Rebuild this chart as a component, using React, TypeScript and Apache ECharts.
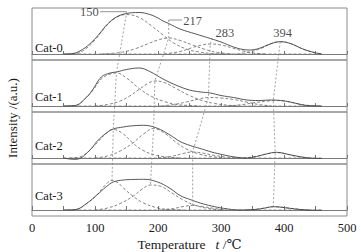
import React, { useEffect, useRef } from 'react';
import * as echarts from 'echarts';

const panelNames = ['Cat-0', 'Cat-1', 'Cat-2', 'Cat-3'];
const xTickStep = 50;
const xMin = 0;
const xMax = 500;
const yMin = -6;
const yMax = 46;

// [temperature, intensity]
const cat0Total = [[50,0],[65,0.5],[80,4.5],[95,12],[108,21],[120,30],[134,37],[150,40.5],[170,41.5],[187,39.5],[200,36],[208,33],[217,30.5],[235,25],[260,20],[283,15.5],[300,12],[320,7],[335,4.5],[345,4],[360,5.5],[378,10],[394,12.3],[410,10.5],[430,5],[448,1.5],[460,0]];
const cat0A = [[55,0],[70,0.5],[85,5],[100,14],[115,26],[130,35],[150,39.5],[170,36.5],[190,28],[208,19],[225,11],[245,5],[265,2],[285,0.5],[305,0]];
const cat0B = [[110,0],[140,1.5],[165,5.5],[185,10.5],[200,14],[217,16],[235,13.5],[255,9],[275,4.5],[295,1.5],[320,0]];
const cat0C = [[210,0],[235,2.5],[255,6.5],[270,9],[283,10],[300,9],[318,6],[335,3],[355,0.8],[370,0]];
const cat0D = [[325,0],[345,2],[365,6],[382,11],[394,12.3],[410,10.5],[430,5],[448,1.5],[460,0]];

const cat1Total = [[50,0],[68,0.5],[87,9],[97,17],[110,29],[124,33],[134,34],[150,36.5],[170,38],[187,34.5],[208,27],[230,20.5],[250,16],[268,14],[283,13],[300,10.5],[320,8.5],[341,6],[360,5.5],[380,6],[395,5.5],[410,4],[436,0.5],[460,0]];
const cat1A = [[55,0],[70,0.5],[85,8],[97,16],[110,27],[124,32],[134,33],[150,28],[171,17],[190,9.5],[210,4.5],[230,1.5],[250,0.5],[265,0]];
const cat1B = [[100,0],[120,1.5],[140,5],[155,10],[171,17],[185,23],[195,25],[210,23.5],[230,17],[250,10.5],[270,5.5],[290,2.5],[310,0.8],[330,0]];
const cat1C = [[205,0],[225,1.5],[245,4],[265,7],[280,8.5],[300,8],[320,6.5],[340,4],[360,1.5],[380,0]];
const cat1D = [[310,0],[335,1.5],[355,3.5],[375,5],[385,5.5],[400,5],[420,2.5],[440,0.5],[455,0]];

const cat2Total = [[50,0],[60,-1],[70,-1.3],[80,1],[87,5],[95,10],[103,16.5],[118,25],[129,29],[145,31],[156,32],[177,32.7],[198,30],[219,23],[235,16.5],[251,12.5],[267,9.5],[285,6],[303,3.3],[320,1.2],[341,0],[356,1.5],[372,4],[388,5.7],[409,3.3],[436,0.3],[460,-0.5]];
const cat2A = [[60,0],[75,1],[87,5],[100,13],[115,23],[129,28.5],[145,24],[160,15],[175,8],[195,3],[215,1],[235,0]];
const cat2B = [[100,0],[120,2],[140,7],[160,15],[177,24],[193,29.5],[210,25],[228,16],[245,9],[265,4],[285,1.5],[305,0]];
const cat2C = [[200,0],[220,1.5],[240,4.5],[255,6],[270,5],[290,2.5],[310,0.8],[330,0]];
const cat2D = [[335,0],[355,1.5],[372,4],[386,5.5],[400,4.5],[420,1.5],[440,0]];

const cat3Total = [[50,0],[68,0.3],[87,6.7],[103,15],[118,23.3],[129,28],[145,30],[160,30.5],[177,30.7],[198,28.3],[219,21.7],[235,14.5],[251,10.5],[267,7],[285,4],[304,1.7],[330,0],[357,0.7],[370,2],[383,3.3],[409,1.7],[436,0],[460,-0.3]];
const cat3A = [[55,0],[70,0.5],[87,6.5],[103,15],[115,24],[127,29.5],[137,27],[145,22],[161,13.5],[177,7],[200,2],[220,0.5],[240,0]];
const cat3B = [[100,0],[120,2],[140,6.5],[161,14],[175,21],[188,25],[205,23.5],[222,17],[240,10],[260,4.5],[280,1.5],[300,0]];
const cat3C = [[205,0],[225,1.5],[240,3.5],[255,4.5],[270,3.5],[290,1.5],[310,0]];
const cat3D = [[340,0],[360,1],[372,2.3],[383,3.3],[400,2.5],[420,1],[440,0]];

const baselineSpan = [[50,0],[460,0]];

// connecting lines: [panel, temperature, intensity]
const line150 = [[0,150,42.3],[0,150,40.5],[1,134,33],[2,129,28.5],[3,127,29.5]];
const line217 = [[0,217,34],[0,217,16],[1,195,25],[2,193,29.5],[3,188,25]];
const line283 = [[0,286,16],[0,283,10],[1,280,8.5],[2,255,6],[3,255,4.5]];
const line394 = [[0,394,12.3],[1,383,5.5],[2,386,5.5],[3,383,3.3]];
const leader150 = [[0,108,42.3],[0,150,42.3]];
const leader217 = [[0,217,34],[0,238,34]];
// labels: [panel, temperature, intensity, text]
const peakLabels: [number, number, number, string][] = [[0,106,42.3,'150'],[0,240,33.5,'217'],[0,306,21,'283'],[0,398,21,'394']];

const totals = [cat0Total, cat1Total, cat2Total, cat3Total];
const components = [
  [cat0A, cat0B, cat0C, cat0D],
  [cat1A, cat1B, cat1C, cat1D],
  [cat2A, cat2B, cat2C, cat2D],
  [cat3A, cat3B, cat3C, cat3D],
];

const FONT = 'Liberation Serif, DejaVu Serif, Times New Roman, serif';
const TXT = '#1a1a1a';

export default function App() {
  const ref = useRef<HTMLDivElement>(null);
  useEffect(() => {
    if (!ref.current) return;
    const chart = echarts.init(ref.current, null, { renderer: 'svg' });
    const span = yMax - yMin;
    const stack = (p: number, h: number) => (3 - p) * span + h - yMin;
    const toStack = (pts: number[][]) => pts.map(([p, t, h]) => [t, stack(p, h)]);

    const left = 32, right = 14, top = 8, ph = 52;
    const grids: any[] = [];
    const xAxes: any[] = [];
    const yAxes: any[] = [];
    for (let i = 0; i < 4; i++) {
      grids.push({ left, right, top: top + i * ph, height: ph, show: true, borderColor: '#8a8a8a', borderWidth: 1 });
      xAxes.push({
        gridIndex: i, type: 'value', min: xMin, max: xMax, interval: xTickStep,
        axisLine: { show: true, lineStyle: { color: '#7a7a7a', width: 1 } },
        axisTick: { show: true, inside: true, length: i === 3 ? 4 : 3, lineStyle: { color: '#777' } },
        splitLine: { show: false },
        axisLabel: i === 3 ? {
          show: true, fontFamily: FONT, fontSize: 12.5, color: TXT, margin: 5,
          formatter: (v: number) => (v % 100 === 0 ? String(v) : ''),
        } : { show: false },
        ...(i === 3 ? {
          name: 'Temperature   {i|t} /℃', nameLocation: 'middle', nameGap: 21,
          nameTextStyle: { fontFamily: FONT, fontSize: 13.5, color: TXT, rich: { i: { fontFamily: FONT, fontSize: 13.5, fontStyle: 'italic', color: TXT } } },
        } : {}),
      });
      yAxes.push({ gridIndex: i, type: 'value', min: yMin, max: yMax, show: false });
    }
    grids.push({ left, right, top, height: ph * 4, show: false });
    xAxes.push({ gridIndex: 4, type: 'value', min: xMin, max: xMax, show: false });
    yAxes.push({ gridIndex: 4, type: 'value', min: 0, max: span * 4, show: false });

    const series: any[] = [];
    for (let i = 0; i < 4; i++) {
      series.push({
        type: 'line', xAxisIndex: i, yAxisIndex: i, data: baselineSpan, symbol: 'none',
        lineStyle: { color: '#777', width: 0.8, type: [3, 2] }, silent: true,
      });
      components[i].forEach((c) => series.push({
        type: 'line', xAxisIndex: i, yAxisIndex: i, data: c, symbol: 'none', smooth: 0.4,
        lineStyle: { color: '#666', width: 0.8, type: [3, 2] }, silent: true,
      }));
      series.push({
        type: 'line', xAxisIndex: i, yAxisIndex: i, data: totals[i], symbol: 'none', smooth: 0.4,
        lineStyle: { color: '#444', width: 0.9 }, silent: true,
      });
    }
    [line150, line217, line283, line394].forEach((l) => series.push({
      type: 'line', xAxisIndex: 4, yAxisIndex: 4, data: toStack(l), symbol: 'none',
      lineStyle: { color: '#888', width: 0.8, type: [2, 2] }, silent: true,
    }));
    [leader150, leader217].forEach((l) => series.push({
      type: 'line', xAxisIndex: 4, yAxisIndex: 4, data: toStack(l), symbol: 'none',
      lineStyle: { color: '#777', width: 0.8 }, silent: true,
    }));
    series.push({
      type: 'scatter', xAxisIndex: 4, yAxisIndex: 4, symbolSize: 0, silent: true,
      itemStyle: { color: TXT },
      data: peakLabels.map(([p, t, h, s]) => ({
        value: [t, stack(p, h)], name: s,
        label: {
          show: true, position: [0, 0], formatter: s, fontFamily: FONT, fontSize: 12.5, color: TXT,
          align: s === '150' ? 'right' : s === '217' ? 'left' : 'center', verticalAlign: 'middle',
        },
      })),
    });

    const graphic: any[] = panelNames.map((n, i) => ({
      type: 'text', x: 35, y: [48, 97, 146, 196][i],
      style: { text: n, fontFamily: FONT, fontSize: 12.5, fill: TXT, textAlign: 'left', textVerticalAlign: 'middle' },
    }));
    graphic.push({
      type: 'text', x: 12, y: 118, rotation: Math.PI / 2,
      style: { text: 'Intensity /(a.u.)', fontFamily: FONT, fontSize: 13, fill: TXT, textAlign: 'center', textVerticalAlign: 'middle' },
    });

    chart.setOption({
      animation: false,
      textStyle: { fontFamily: FONT },
      grid: grids,
      xAxis: xAxes,
      yAxis: yAxes,
      series,
      graphic,
    });
    return () => chart.dispose();
  }, []);
  return <div ref={ref} style={{ width: 361, height: 252, position: 'absolute', left: 0, top: 0, background: '#fff' }} />;
}
